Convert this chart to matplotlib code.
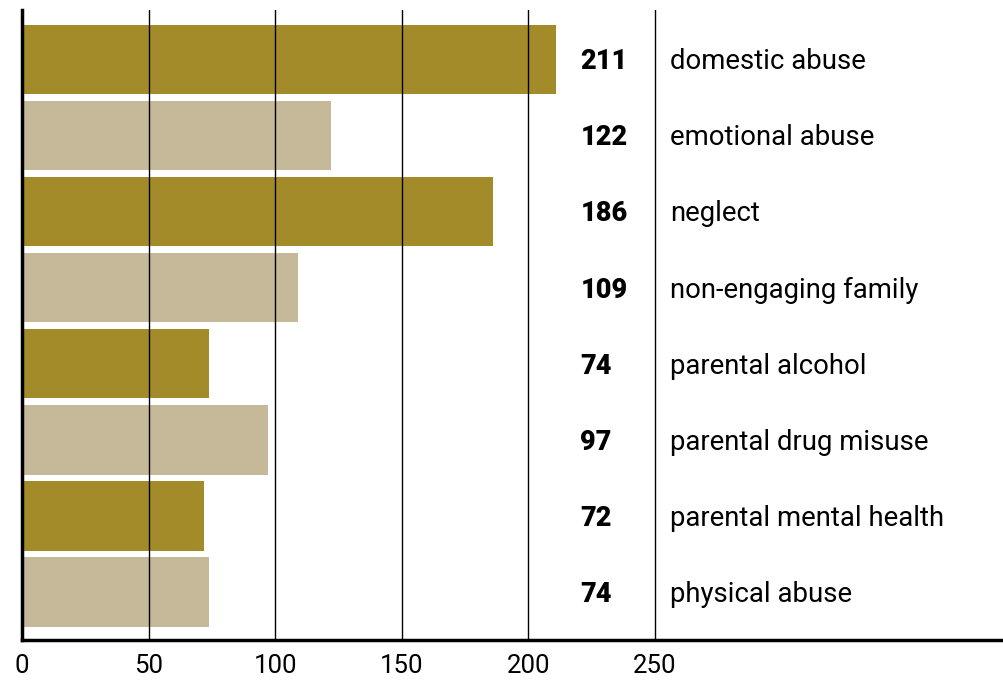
import matplotlib
matplotlib.use('Agg')
from matplotlib import pyplot as plt

categories = ['domestic abuse', 'emotional abuse', 'neglect', 'non-engaging family',
              'parental alcohol', 'parental drug misuse', 'parental mental health',
              'physical abuse']
values = [211, 122, 186, 109, 74, 97, 72, 74]
bar_colors = ['#a38b2a', '#c6b999'] * 4
ticks = [0, 50, 100, 150, 200, 250]

fig = plt.figure(figsize=(10.04, 6.81), dpi=100)
ax = fig.add_axes([22 / 1004, 41 / 681, 982 / 1004, 630 / 681])

y = list(range(len(categories)))
ax.barh(y, values, height=0.91, color=bar_colors, zorder=1)

# vertical reference lines drawn over the bars
for t in ticks[1:]:
    ax.axvline(t, color='black', lw=1, zorder=2)

for i, (v, c) in enumerate(zip(values, categories)):
    ax.text(220.5, i + 0.03, str(v), fontsize=19.5, fontweight=900, family='Roboto',
            va='center', ha='left')
    ax.text(255.8, i + 0.03, c, fontsize=19.8, family='Roboto', va='center', ha='left')

ax.set_xlim(0, 387.8)
ax.set_ylim(7.63, -0.65)
ax.set_xticks(ticks)
ax.set_xticklabels([str(t) for t in ticks], fontsize=18.5, family='Roboto')
ax.tick_params(axis='x', length=0, pad=10)
ax.set_yticks([])
for s in ['top', 'right']:
    ax.spines[s].set_visible(False)
ax.spines['left'].set_linewidth(2.5)
ax.spines['bottom'].set_linewidth(2.5)

fig.savefig('out.png', dpi=100)
